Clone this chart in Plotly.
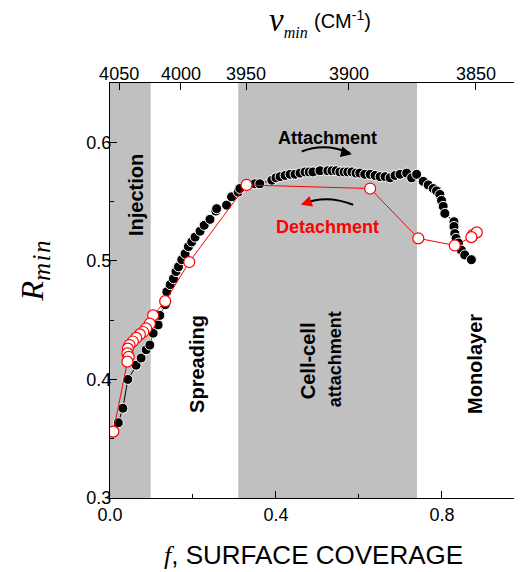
import plotly.graph_objects as go

# ---------------- data ----------------
# attachment (black filled dots): surface coverage f and R_min
att_f = [0.020, 0.031, 0.043, 0.063, 0.075, 0.087, 0.096, 0.104, 0.116, 0.120,
         0.133, 0.137, 0.145, 0.153, 0.159, 0.165, 0.173, 0.181, 0.189, 0.197,
         0.205, 0.217, 0.227, 0.241, 0.255, 0.257, 0.281, 0.293, 0.309, 0.313,
         0.349, 0.361, 0.390, 0.400, 0.410, 0.422, 0.434, 0.446, 0.458, 0.470,
         0.480, 0.489, 0.506, 0.525, 0.535, 0.545, 0.554, 0.564, 0.573, 0.583,
         0.593, 0.602, 0.614, 0.627, 0.639, 0.651, 0.663, 0.675, 0.687, 0.699,
         0.715, 0.727, 0.739, 0.755, 0.767, 0.779, 0.787, 0.795, 0.799, 0.803,
         0.807, 0.829, 0.829, 0.831, 0.834, 0.840, 0.847, 0.855, 0.871]
att_r = [0.3635, 0.3757, 0.400, 0.412, 0.418, 0.425, 0.429, 0.439, 0.446, 0.454,
         0.463, 0.474, 0.480, 0.485, 0.491, 0.495, 0.501, 0.506, 0.512, 0.516,
         0.520, 0.525, 0.530, 0.535, 0.542, 0.544, 0.547, 0.554, 0.558, 0.561,
         0.565, 0.565, 0.568, 0.570, 0.571, 0.572, 0.573, 0.573, 0.574, 0.575,
         0.575, 0.575, 0.576, 0.576, 0.576, 0.576, 0.575, 0.575, 0.575, 0.575,
         0.574, 0.574, 0.573, 0.573, 0.572, 0.571, 0.571, 0.570, 0.572, 0.573,
         0.574, 0.570, 0.573, 0.567, 0.564, 0.561, 0.559, 0.556, 0.551, 0.546,
         0.540, 0.533, 0.529, 0.523, 0.519, 0.515, 0.509, 0.505, 0.501]

# detachment (red open circles), in measurement order
det_f = [0.875, 0.884, 0.871, 0.831, 0.743, 0.627, 0.329, 0.191, 0.133, 0.104,
         0.096, 0.087, 0.080, 0.072, 0.063, 0.055, 0.047, 0.043, 0.042, 0.045,
         0.042, 0.008]
det_r = [0.522, 0.524, 0.520, 0.513, 0.519, 0.561, 0.564, 0.499, 0.466, 0.454,
         0.447, 0.443, 0.440, 0.438, 0.435, 0.432, 0.429, 0.426, 0.422, 0.419,
         0.415, 0.356]

# top axis: wavenumber labels and the coverage at which they sit
nu_labels = ["4050", "4000", "3950", "3900", "3850"]
nu_at_f = [0.022, 0.171, 0.328, 0.576, 0.882]

# shaded stages (f ranges)
band_start = [0.0, 0.309]
band_end = [0.098, 0.740]

ARIAL = "Arial, Liberation Sans, sans-serif"
SERIF = "Liberation Serif"

fig = go.Figure()

fig.add_trace(go.Scatter(
    x=att_f, y=att_r, mode="lines+markers",
    line=dict(color="black", width=1),
    marker=dict(size=10, color="black", line=dict(color="white", width=1)),
    showlegend=False, hoverinfo="skip"))

fig.add_trace(go.Scatter(
    x=det_f, y=det_r, mode="lines+markers",
    line=dict(color="#ff0000", width=1),
    marker=dict(size=11, color="white", line=dict(color="#ff0000", width=1.2)),
    showlegend=False, hoverinfo="skip"))

# invisible trace to activate the top axis
fig.add_trace(go.Scatter(x=[att_f[0]], y=[att_r[0]], xaxis="x2", mode="markers",
                         marker=dict(opacity=0), showlegend=False, hoverinfo="skip"))

shapes = []
for a, b in zip(band_start, band_end):
    shapes.append(dict(type="rect", xref="x", yref="paper", x0=a, x1=b, y0=0, y1=1,
                       fillcolor="#c0c0c0", line=dict(width=0), layer="below"))

# curved arrows
shapes.append(dict(type="path", xref="x", yref="y",
                   path="M 0.462,0.5922 Q 0.518,0.6000 0.578,0.5910",
                   line=dict(color="black", width=2)))
shapes.append(dict(type="path", xref="x", yref="y",
                   path="M 0.586,0.5473 Q 0.522,0.5560 0.470,0.5485",
                   line=dict(color="black", width=2)))

ann = []
def lab(text, x, y, size=20, angle=-90, color="black", family=ARIAL,
        xanchor="center", yanchor="middle"):
    ann.append(dict(text=text, x=x, y=y, xref="paper", yref="paper", showarrow=False,
                    textangle=angle, font=dict(family=family, size=size, color=color),
                    xanchor=xanchor, yanchor=yanchor))

lab("<b>Injection</b>", 0.063, 0.730)
lab("<b>Spreading</b>", 0.211, 0.323)
lab("<b>Cell-cell</b>", 0.481, 0.330)
lab("<b>attachment</b>", 0.545, 0.333, size=18)
lab("<b>Monolayer</b>", 0.886, 0.323)
lab("<b>Attachment</b>", 0.527, 0.867, size=18, angle=0)
lab("<b>Detachment</b>", 0.529, 0.653, size=18, angle=0, color="#ff0000")

# arrow heads
ann.append(dict(x=0.583, y=0.5900, xref="x", yref="y", ax=-9, ay=-2, showarrow=True,
                arrowhead=2, arrowsize=1.1, arrowwidth=2, arrowcolor="black", text=""))
ann.append(dict(x=0.460, y=0.5473, xref="x", yref="y", ax=9, ay=-3, showarrow=True,
                arrowhead=2, arrowsize=1.1, arrowwidth=2, arrowcolor="#ff0000", text=""))

# axis titles
lab('<i>R</i><sub><i><span style="font-size:25px;letter-spacing:1.5px">min</span></i></sub>',
    -0.182, 0.548, size=32, family=SERIF)
ann.append(dict(text='<span style="font-family:Liberation Serif"><i>f</i></span>, SURFACE COVERAGE',
                x=0.495, y=-0.137, xref="paper", yref="paper", showarrow=False,
                font=dict(family=ARIAL, size=26, color="black"),
                xanchor="center", yanchor="middle"))
lab('<i>ν</i><sub><i><span style="font-size:16px">min</span></i></sub>',
    0.486, 1.148, size=33, angle=0, family=SERIF, xanchor="right")
lab('(CM<sup>-1</sup>)', 0.490, 1.152, size=20, angle=0, xanchor="left")

fig.update_layout(
    width=514, height=564,
    margin=dict(l=102, r=0, t=75, b=74),
    paper_bgcolor="white", plot_bgcolor="white",
    font=dict(family=ARIAL, size=18, color="black"),
    shapes=shapes, annotations=ann,
    xaxis=dict(range=[0, 0.993], showgrid=False, zeroline=False, showline=True,
               linecolor="black", linewidth=1.3, ticks="inside", ticklen=7,
               tickwidth=1.3, tickcolor="black", tickvals=[0.0, 0.4, 0.8],
               tickformat=".1f", minor=dict(tickvals=[0.2, 0.6], ticks="inside",
                                             ticklen=4, tickcolor="black", tickwidth=1.3),
               tickfont=dict(size=18)),
    xaxis2=dict(overlaying="x", side="top", matches="x", showgrid=False, zeroline=False,
                showline=True, linecolor="black", linewidth=1.3, ticks="inside",
                ticklen=7, tickwidth=1.3, tickcolor="black",
                tickmode="array", tickvals=nu_at_f, ticktext=nu_labels,
                ticklabelstandoff=-5, tickfont=dict(size=18)),
    yaxis=dict(range=[0.3, 0.65], showgrid=False, zeroline=False, showline=True,
               linecolor="black", linewidth=1.3, ticks="inside", ticklen=7,
               tickwidth=1.3, tickcolor="black", dtick=0.1, tick0=0.3,
               tickformat=".1f", minor=dict(dtick=0.05, ticks="inside", ticklen=4,
                                             tickcolor="black", tickwidth=1.3),
               ticklabelstandoff=-6, tickfont=dict(size=18)),
)

fig.write_html("out.html")
